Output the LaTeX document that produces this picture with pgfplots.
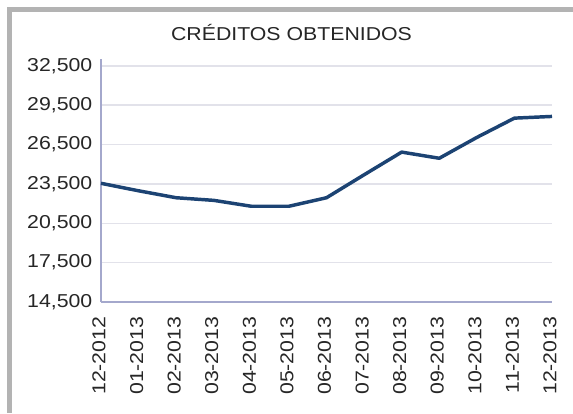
\documentclass[border=0pt]{standalone}
\usepackage{fontspec}
\setmainfont{Liberation Sans}[FakeStretch=1.14]
\usepackage{pgfplots}
\pgfplotsset{compat=1.18}

\definecolor{linenavy}{HTML}{1C4373}
\definecolor{axislav}{HTML}{A4A8CC}
\definecolor{gridgray}{HTML}{E2E2EA}
\definecolor{framegray}{HTML}{B3B3B3}

\begin{document}
\begin{tikzpicture}[x=0.75pt,y=0.75pt]
  % 1 unit = 1 px of the 573x413 reference
  \useasboundingbox (0,0) rectangle (573,413);
  \fill[framegray] (7,0) rectangle (12,406);
  \fill[framegray] (7,401) rectangle (573,406);
  \node[font=\fontsize{14}{16}\selectfont, text=black!85] at (291.5,380) {CRÉDITOS OBTENIDOS};

  \begin{axis}[
    at={(101pt*0.75,111pt*0.75)}, anchor=south west,
    scale only axis,
    width=338.25pt, height=182.25pt,
    xmin=0, xmax=12,
    ymin=14500, ymax=33030,
    axis x line=bottom, axis y line=left,
    axis line style={-, axislav, line width=1pt},
    xtick={0,...,12},
    xticklabels={12-2012,01-2013,02-2013,03-2013,04-2013,05-2013,06-2013,
                 07-2013,08-2013,09-2013,10-2013,11-2013,12-2013},
    ytick={14500,17500,20500,23500,26500,29500,32500},
    scaled y ticks=false,
    major tick length=0pt,
    ymajorgrids,
    grid style={gridgray, line width=1.2pt},
    /pgf/number format/assume math mode=true,
    /pgf/number format/1000 sep={,},
    ticklabel style={font=\fontsize{14}{16}\selectfont, text=black!85},
    yticklabel style={anchor=east, xshift=-3pt},
    xticklabel style={rotate=90, anchor=east, xshift=-7.5pt, yshift=1.5pt},
    clip=false,
  ]
  \addplot[linenavy, line width=2.6pt, line join=round] coordinates {
    (0,23550) (1,22980) (2,22450) (3,22250) (4,21800) (5,21800) (6,22450)
    (7,24200) (8,25930) (9,25460) (10,27050) (11,28520) (12,28650)
  };
  \end{axis}
\end{tikzpicture}
\end{document}
